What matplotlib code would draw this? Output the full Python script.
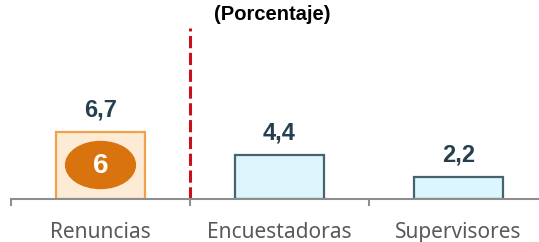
import matplotlib
matplotlib.use("Agg")
import matplotlib.pyplot as plt
from matplotlib.patches import Ellipse
from matplotlib import font_manager

# data
categories = ["Renuncias", "Encuestadoras", "Supervisores"]
values = [6.7, 4.4, 2.2]
value_labels = ["6,7", "4,4", "2,2"]
badge_text = "6"
title = "(Porcentaje)"

names = {f.name for f in font_manager.fontManager.ttflist}
title_font = "Liberation Sans Narrow" if "Liberation Sans Narrow" in names else "Liberation Sans"

fig = plt.figure(figsize=(5.39, 2.42), dpi=100)
ax = fig.add_axes([11 / 539, 43 / 242, 528 / 539, 199 / 242])

x = list(range(len(categories)))
fills = ["#FDEBD5", "#DDF6FD", "#DDF6FD"]
edges = ["#F0A24A", "#46636E", "#46636E"]
ax.bar(x, values, width=0.5, color=fills, edgecolor=edges, linewidth=1.6, zorder=2)

for xi, v, lab in zip(x, values, value_labels):
    ax.annotate(lab, (xi, v), xytext=(0, 11), textcoords="offset points",
                ha="center", va="baseline", fontsize=17, fontweight="bold",
                color="#263F4F", family="Liberation Sans")

# badge on first bar
ax.add_patch(Ellipse((x[0], 3.4), 0.39, 4.7, color="#D9730D", zorder=3))
ax.text(x[0], 3.3, badge_text, ha="center", va="center", fontsize=20,
        fontweight="bold", color="white", family="Liberation Sans", zorder=4)

# red dashed separator
ax.plot([0.5, 0.5], [0, 17.1], color="#C8101E", linewidth=2.2,
        linestyle=(0, (4, 1.5)), zorder=1)

ax.set_xlim(-0.5, -0.5 + 528 / 179)
ax.set_ylim(0, 19.9)

for s in ["top", "right", "left"]:
    ax.spines[s].set_visible(False)
ax.spines["bottom"].set_color("#8E8E8E")
ax.spines["bottom"].set_linewidth(1.5)
ax.set_yticks([])

ax.set_xticks([-0.5, 0.5, 1.5])
ax.set_xticklabels([])
ax.tick_params(axis="x", which="major", length=5, width=1.5, color="#8E8E8E")
ax.set_xticks(x, minor=True)
ax.set_xticklabels(categories, minor=True, fontsize=15, color="#595959",
                   family="Noto Sans")
ax.tick_params(axis="x", which="minor", length=0, pad=16.5)

fig.text(272 / 539, 1 - 15 / 242, title, ha="center", va="center",
         fontsize=14.5, fontweight="bold", color="black", family=title_font)

fig.savefig("out.png", dpi=100)
